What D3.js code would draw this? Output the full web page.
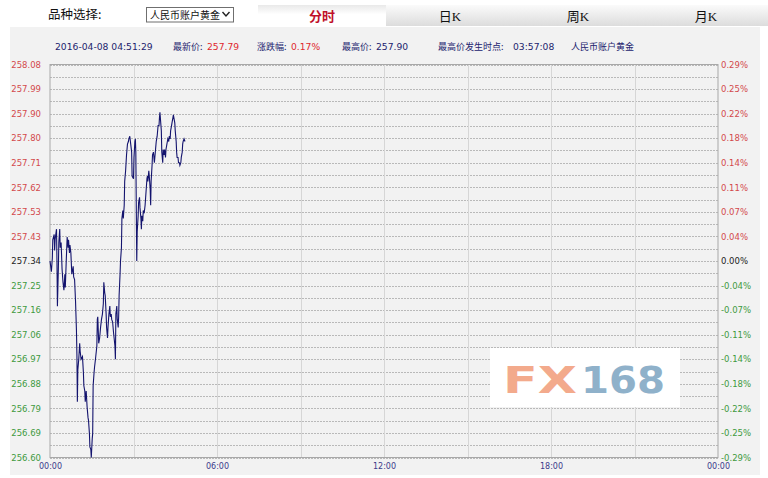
<!DOCTYPE html>
<html><head><meta charset="utf-8">
<script src="https://cdn.jsdelivr.net/npm/d3@7"></script>
<style>body{margin:0;background:#fff}svg{display:block}</style>
</head><body><svg id="c" width="768" height="478"></svg>
<script>
// ---- data (minutes after 00:00, price) ----
const minutes = [
  0,3,5,6,9,10,11,14,15,16,
  18,19,21,22,24,26,28,30,32,33,
  35,37,39,40,42,43,45,46,47,50,
  51,53,55,57,58,59,60,62,64,65,
  67,70,72,73,75,76,78,80,82,83,
  85,86,88,89,91,92,93,95,96,98,
  101,102,103,105,107,109,111,113,115,116,
  118,119,121,122,124,125,127,129,130,132,
  133,135,137,140,141,142,144,145,147,148,
  149,151,152,154,155,157,158,160,161,163,
  165,167,169,170,172,174,176,177,180,181,
  183,184,185,187,188,190,191,193,194,196,
  197,198,200,201,203,205,207,209,210,211,
  213,214,216,217,218,220,221,223,225,227,
  229,230,231,233,235,236,237,240,241,243,
  244,246,247,249,250,252,253,254,256,257,
  259,260,262,263,265,266,267,269,270,272,
  273,274,276,277,279,280,282,283,285,286,
  287,289,291
];
const prices = [
  257.34,257.30,257.35,257.42,257.44,257.38,257.42,257.46,257.34,257.17,
  257.31,257.41,257.46,257.39,257.41,257.31,257.26,257.23,257.29,257.24,
  257.34,257.43,257.39,257.42,257.37,257.40,257.37,257.33,257.29,257.32,
  257.28,257.27,257.19,257.08,256.99,256.81,256.93,256.97,257.03,257.00,
  256.97,256.98,256.92,256.87,256.85,256.81,256.85,256.79,256.75,256.74,
  256.69,256.64,256.63,256.60,256.67,256.69,256.87,256.92,256.94,256.97,
  257.02,257.12,257.13,257.03,257.05,257.09,257.12,257.14,257.18,257.26,
  257.22,257.21,257.14,257.09,257.05,257.09,257.14,257.17,257.13,257.14,
  257.12,257.11,257.07,257.02,256.97,257.14,257.17,257.12,257.09,257.13,
  257.21,257.29,257.34,257.39,257.50,257.53,257.50,257.55,257.64,257.68,
  257.74,257.78,257.79,257.80,257.81,257.78,257.75,257.66,257.65,257.73,
  257.79,257.80,257.75,257.34,257.45,257.51,257.56,257.58,257.54,257.50,
  257.46,257.51,257.49,257.53,257.52,257.55,257.60,257.65,257.66,257.64,
  257.68,257.66,257.61,257.55,257.64,257.70,257.74,257.75,257.71,257.75,
  257.79,257.80,257.81,257.85,257.85,257.88,257.90,257.83,257.75,257.71,
  257.76,257.74,257.76,257.73,257.76,257.78,257.79,257.80,257.79,257.81,
  257.80,257.83,257.85,257.86,257.88,257.89,257.88,257.86,257.83,257.79,
  257.75,257.73,257.73,257.71,257.71,257.70,257.71,257.73,257.75,257.78,
  257.79,257.80,257.79
];
const priceTicks = ["258.08","257.99","257.90","257.80","257.71","257.62","257.53","257.43",
  "257.34","257.25","257.16","257.06","256.97","256.88","256.79","256.69","256.60"];
const pctTicks = ["0.29%","0.25%","0.22%","0.18%","0.14%","0.11%","0.07%","0.04%",
  "0.00%","-0.04%","-0.07%","-0.11%","-0.14%","-0.18%","-0.22%","-0.25%","-0.29%"];
const timeTicks = ["00:00","06:00","12:00","18:00","00:00"];
const tabs = ["分时","日K","周K","月K"];
const productName = "人民币账户黄金";
const infoTime = "2016-04-08 04:51:29";
const lastPrice = "257.79";
const changePct = "0.17%";
const highPrice = "257.90";
const highTime = "03:57:08";
const yMin = 256.60, yMax = 258.08;

// ---- layout ----
const svg = d3.select("#c");
const L = 50, T = 64.5, R = 718, B = 457.5;
const x = d3.scaleLinear().domain([0, 1440]).range([L, R]);
const y = d3.scaleLinear().domain([yMin, yMax]).range([B, T]);
const navy = "#23236e", red = "#e0282e";
const cjk = "'Noto Sans CJK SC', sans-serif";
const latin = "'DejaVu Sans', sans-serif";

const defs = svg.append("defs");
const g1 = defs.append("linearGradient").attr("id","tabG").attr("x1",0).attr("y1",0).attr("x2",0).attr("y2",1);
g1.append("stop").attr("offset","0%").attr("stop-color","#fbfbfb");
g1.append("stop").attr("offset","100%").attr("stop-color","#dcdcdc");
const g2 = defs.append("linearGradient").attr("id","tabA").attr("x1",0).attr("y1",0).attr("x2",0).attr("y2",1);
g2.append("stop").attr("offset","0%").attr("stop-color","#e9e9e9");
g2.append("stop").attr("offset","45%").attr("stop-color","#ffffff");
g2.append("stop").attr("offset","100%").attr("stop-color","#ffffff");

// top bar
svg.append("text").attr("x",48).attr("y",19).attr("font-family",cjk).attr("font-size",12.5)
  .attr("fill","#111").text("品种选择:");
svg.append("rect").attr("x",146.5).attr("y",7.5).attr("width",87).attr("height",14.5)
  .attr("fill","#fff").attr("stroke","#6f6f6f");
svg.append("text").attr("x",150).attr("y",18.5).attr("font-family",cjk).attr("font-size",10)
  .attr("fill","#111").text(productName);
svg.append("path").attr("d","M222.5,12 L226,16 L229.5,12").attr("fill","none")
  .attr("stroke","#222").attr("stroke-width",1.4);

const tabW = 128, tab0 = 258;
svg.append("rect").attr("x",tab0).attr("y",5).attr("width",tabW).attr("height",21).attr("fill","url(#tabA)");
svg.append("rect").attr("x",tab0+tabW).attr("y",5).attr("width",768-tab0-tabW).attr("height",21).attr("fill","url(#tabG)");
svg.selectAll("text.tab").data(tabs).join("text").attr("class","tab")
  .attr("x",(d,i)=>tab0+tabW*i+tabW/2).attr("y",20.5).attr("text-anchor","middle")
  .attr("font-family",(d,i)=> i===0 ? cjk : "'Liberation Serif', 'Noto Sans CJK SC', serif")
  .attr("font-size",13).attr("font-weight",(d,i)=>i===0?"bold":"normal")
  .attr("fill",(d,i)=>i===0?"#c0102a":"#111").text(d=>d);

// panel background
svg.append("rect").attr("x",10).attr("y",27).attr("width",750).attr("height",448).attr("fill","#f2f2f2");

// info line
const info = [
  {t:infoTime, x:55, c:navy, f:latin, s:9.2},
  {t:"最新价:", x:173, c:navy, f:cjk, s:9},
  {t:lastPrice, x:207, c:red, f:latin, s:9.2},
  {t:"涨跌幅:", x:257, c:navy, f:cjk, s:9},
  {t:changePct, x:291, c:red, f:latin, s:9.2},
  {t:"最高价:", x:342, c:navy, f:cjk, s:9},
  {t:highPrice, x:376, c:navy, f:latin, s:9.2},
  {t:"最高价发生时点:", x:438, c:navy, f:cjk, s:9},
  {t:highTime, x:513, c:navy, f:latin, s:9.2},
  {t:productName, x:571, c:navy, f:cjk, s:9}
];
svg.selectAll("text.info").data(info).join("text").attr("class","info")
  .attr("x",d=>d.x).attr("y",49.5).attr("font-family",d=>d.f).attr("font-size",d=>d.s)
  .attr("fill",d=>d.c).text(d=>d.t);

// grid
const step = (yMax - yMin) / 16;
const gridVals = d3.range(33).map(i => yMin + i * step / 2);
svg.append("g").selectAll("line").data(gridVals).join("line")
  .attr("x1",L).attr("x2",R).attr("y1",d=>Math.round(y(d))+0.5).attr("y2",d=>Math.round(y(d))+0.5)
  .attr("stroke","#b9b9b9").attr("stroke-dasharray","2,1").attr("stroke-width",1);
svg.append("g").selectAll("line").data(d3.range(180,1440,180)).join("line")
  .attr("x1",d=>Math.round(x(d))+0.5).attr("x2",d=>Math.round(x(d))+0.5).attr("y1",T).attr("y2",B)
  .attr("stroke","#d6d6d6").attr("stroke-width",1);

// logo
svg.append("rect").attr("x",490).attr("y",348).attr("width",190).attr("height",59).attr("fill","#fff");
svg.append("text").attr("x",503).attr("y",393).attr("font-family",latin).attr("font-weight","bold")
  .attr("font-size",37).attr("textLength",74).attr("lengthAdjust","spacingAndGlyphs")
  .attr("fill","#f3aa8c").text("FX");
svg.append("text").attr("x",581).attr("y",393).attr("font-family",latin).attr("font-weight","bold")
  .attr("font-size",37).attr("textLength",84).attr("lengthAdjust","spacingAndGlyphs")
  .attr("fill","#8fb1ca").text("168");

// border
svg.append("rect").attr("x",L).attr("y",T).attr("width",R-L).attr("height",B-T)
  .attr("fill","none").attr("stroke","#a8a8a8").attr("stroke-width",1);

// axes
const tickVals = d3.range(17).map(i => yMax - i * step);
const colorFor = i => i < 8 ? "#d2494c" : (i === 8 ? "#222" : "#3f9a3f");
const ax1 = svg.append("g").attr("transform",`translate(${L},0)`)
  .call(d3.axisLeft(y).tickValues(tickVals).tickSize(0).tickPadding(9).tickFormat((d,i)=>priceTicks[i]));
ax1.select(".domain").remove();
ax1.selectAll("text").attr("font-family",latin).attr("font-size",8.5).attr("fill",(d,i)=>colorFor(i));
const ax2 = svg.append("g").attr("transform",`translate(${R},0)`)
  .call(d3.axisRight(y).tickValues(tickVals).tickSize(0).tickPadding(3).tickFormat((d,i)=>pctTicks[i]));
ax2.select(".domain").remove();
ax2.selectAll("text").attr("font-family",latin).attr("font-size",8.5).attr("fill",(d,i)=>colorFor(i));
const ax3 = svg.append("g").attr("transform",`translate(0,${B})`)
  .call(d3.axisBottom(x).tickValues([0,360,720,1080,1440]).tickSize(0).tickPadding(6).tickFormat((d,i)=>timeTicks[i]));
ax3.select(".domain").remove();
ax3.selectAll("text").attr("font-family",latin).attr("font-size",8).attr("fill","#3b3b8a");

// price line
const pts = minutes.map((m,i)=>[m, prices[i]]);
svg.append("path").datum(pts)
  .attr("d", d3.line().x(d=>x(d[0])).y(d=>y(d[1])))
  .attr("fill","none").attr("stroke","#14146e").attr("stroke-width",1.1);
</script></body></html>
